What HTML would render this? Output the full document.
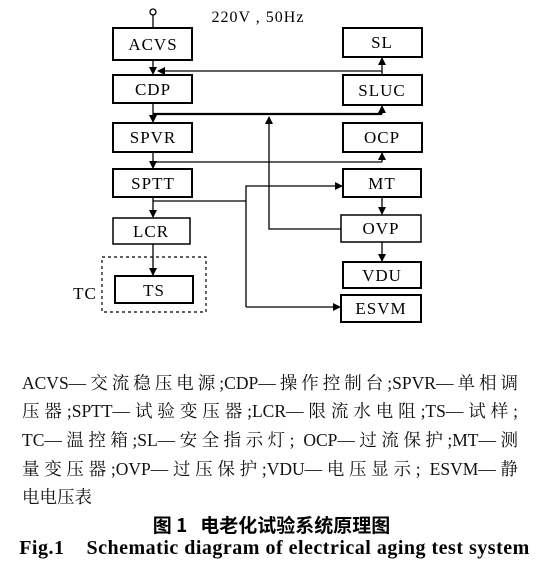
<!DOCTYPE html>
<html><head><meta charset="utf-8"><style>
body{margin:0;background:#fff;width:549px;height:579px;overflow:hidden;position:relative}
svg{position:absolute;left:0;top:0}
.t{position:absolute;left:22px;width:496px;font-family:"Liberation Serif","Noto Serif CJK SC","Noto Sans CJK SC",serif;font-size:17.5px;line-height:20px;text-align:justify;text-align-last:justify;white-space:nowrap;color:#111}
.c{position:absolute;left:0;width:549px;text-align:center;font-weight:bold;color:#000}
</style></head><body>
<svg width="549" height="579" viewBox="0 0 549 579" font-family="Liberation Serif, serif" font-size="17" letter-spacing="1" text-anchor="middle">
<defs><marker id="a" markerWidth="8" markerHeight="8" refX="7" refY="4" orient="auto" markerUnits="userSpaceOnUse"><path d="M0,0 L8,4 L0,8 z" fill="#000"/></marker></defs>
<g fill="none" stroke="#000" stroke-width="2">
<rect x="113" y="28" width="79" height="32"/><rect x="343" y="28" width="79" height="29"/>
<rect x="113" y="75" width="79" height="28"/><rect x="343" y="75" width="79" height="30"/>
<rect x="113" y="123" width="79" height="29"/><rect x="343" y="123" width="79" height="29"/>
<rect x="113" y="169" width="79" height="28"/><rect x="343" y="169" width="78" height="28"/>
<rect x="113" y="218" width="77" height="26" stroke-width="1.5"/><rect x="341" y="215" width="80" height="27" stroke-width="1.5"/>
<rect x="343" y="262" width="78" height="26"/><rect x="341" y="295" width="80" height="27"/>
<rect x="115" y="276" width="78" height="27"/>
<rect x="102" y="257" width="104" height="55" stroke-width="1.2" stroke-dasharray="3,3"/>
</g>
<g fill="none" stroke="#000" stroke-width="1.3">
<circle cx="153" cy="12" r="3"/>
<line x1="153" y1="15" x2="153" y2="28"/>
<line x1="153" y1="60" x2="153" y2="74" marker-end="url(#a)"/>
<line x1="382" y1="71" x2="158" y2="71" marker-end="url(#a)"/>
<line x1="382" y1="75" x2="382" y2="58" marker-end="url(#a)"/>
<line x1="153" y1="103" x2="153" y2="122" marker-end="url(#a)"/>
<line x1="153" y1="114" x2="382" y2="114" stroke-width="2.2"/>
<line x1="382" y1="114" x2="382" y2="106" marker-end="url(#a)"/>
<line x1="153" y1="152" x2="153" y2="168" marker-end="url(#a)"/>
<line x1="153" y1="162" x2="382" y2="162"/>
<line x1="382" y1="162" x2="382" y2="153" marker-end="url(#a)"/>
<polyline points="341,229 269,229 269,117" marker-end="url(#a)"/>
<line x1="153" y1="197" x2="153" y2="217" marker-end="url(#a)"/>
<line x1="153" y1="201" x2="246" y2="201"/>
<polyline points="246,307 246,186 342,186" marker-end="url(#a)"/>
<line x1="246" y1="307" x2="340" y2="307" marker-end="url(#a)"/>
<line x1="382" y1="197" x2="382" y2="214" marker-end="url(#a)"/>
<line x1="382" y1="242" x2="382" y2="261" marker-end="url(#a)"/>
<line x1="153" y1="244" x2="153" y2="275" marker-end="url(#a)"/>
</g>
<text x="258" y="22" font-size="16">220V , 50Hz</text>
<text x="153" y="50">ACVS</text><text x="382" y="48">SL</text>
<text x="153" y="95">CDP</text><text x="382" y="96">SLUC</text>
<text x="153" y="143">SPVR</text><text x="382" y="143">OCP</text>
<text x="153" y="189">SPTT</text><text x="382" y="189">MT</text>
<text x="151" y="237">LCR</text><text x="381" y="234">OVP</text>
<text x="382" y="281">VDU</text><text x="381" y="314">ESVM</text>
<text x="154" y="296">TS</text><text x="85" y="299">TC</text>
</svg>
<div class="t" style="top:373px">ACVS—交流稳压电源;CDP—操作控制台;SPVR—单相调</div>
<div class="t" style="top:401px">压器;SPTT—试验变压器;LCR—限流水电阻;TS—试样;</div>
<div class="t" style="top:430px">TC—温控箱;SL—安全指示灯; OCP—过流保护;MT—测</div>
<div class="t" style="top:459px">量变压器;OVP—过压保护;VDU—电压显示; ESVM—静</div>
<div class="t" style="top:487px;text-align-last:left">电电压表</div>
<div class="c" style="top:511px;font-size:19px;font-family:'Noto Sans CJK SC',sans-serif;left:-3px">图 1&nbsp;&nbsp;&nbsp;电老化试验系统原理图</div>
<div class="c" style="top:537px;font-size:20px;font-family:'Liberation Serif',serif;letter-spacing:0.5px">Fig.1&nbsp;&nbsp;&nbsp;&nbsp;Schematic diagram of electrical aging test system</div>
</body></html>
